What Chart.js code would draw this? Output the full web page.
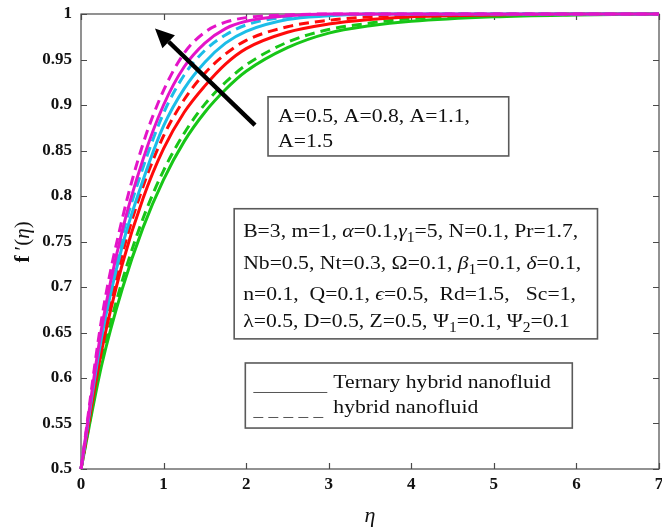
<!DOCTYPE html>
<html lang="en">
<head>
<meta charset="UTF-8">
<title>f'(eta) for different A</title>
<script src="https://cdn.jsdelivr.net/npm/chart.js"></script>
<style>
  html, body { margin: 0; padding: 0; background: #fff; }
  #wrap { width: 662px; height: 532px; }
</style>
</head>
<body>
<div id="wrap"><canvas id="velChart"></canvas></div>
<script>
// similarity variable and velocity profiles f'(eta)
const etaValues  = [0, 0.25, 0.5, 0.75, 1, 1.25, 1.5, 1.75, 2, 2.5, 3, 3.5, 4, 5, 6, 7];
const ternaryA05 = [0.5, 0.614, 0.698, 0.765, 0.818, 0.860, 0.892, 0.917, 0.937, 0.963, 0.979, 0.987, 0.992, 0.997, 0.999, 1.0];
const hybridA05  = [0.5, 0.620, 0.707, 0.775, 0.828, 0.869, 0.901, 0.925, 0.944, 0.969, 0.983, 0.990, 0.995, 0.998, 1.0, 1.0];
const ternaryA08 = [0.5, 0.630, 0.725, 0.797, 0.852, 0.892, 0.921, 0.945, 0.962, 0.980, 0.989, 0.994, 0.997, 0.999, 1.0, 1.0];
const hybridA08  = [0.5, 0.637, 0.736, 0.810, 0.866, 0.906, 0.935, 0.956, 0.971, 0.986, 0.993, 0.997, 0.999, 1.0, 1.0, 1.0];
const ternaryA11 = [0.5, 0.645, 0.745, 0.817, 0.877, 0.918, 0.947, 0.968, 0.981, 0.994, 0.998, 1.0, 1.0, 1.0, 1.0, 1.0];
const hybridA11  = [0.5, 0.652, 0.756, 0.831, 0.891, 0.933, 0.960, 0.977, 0.988, 0.997, 0.999, 1.0, 1.0, 1.0, 1.0, 1.0];
const ternaryA15 = [0.5, 0.655, 0.762, 0.840, 0.900, 0.942, 0.968, 0.984, 0.992, 0.998, 1.0, 1.0, 1.0, 1.0, 1.0, 1.0];
const hybridA15  = [0.5, 0.665, 0.775, 0.857, 0.916, 0.957, 0.980, 0.991, 0.996, 0.999, 1.0, 1.0, 1.0, 1.0, 1.0, 1.0];

const etaTicks = [0, 1, 2, 3, 4, 5, 6, 7];
const fTicks = [0.5, 0.55, 0.6, 0.65, 0.7, 0.75, 0.8, 0.85, 0.9, 0.95, 1];

// text of the annotation boxes: [text, style] with style i = italic, s = subscript
const aLabelLines = [
  [['A=0.5, A=0.8, A=1.1,']],
  [['A=1.5']]
];
const paramLines = [
  [['B=3, m=1, '], ['α', 'i'], ['=0.1,'], ['γ', 'i'], ['1', 's'], ['=5, N=0.1, Pr=1.7,']],
  [['Nb=0.5, Nt=0.3, Ω=0.1, '], ['β', 'i'], ['1', 's'], ['=0.1, '], ['δ', 'i'], ['=0.1,']],
  [['n=0.1,  Q=0.1, '], ['ϵ', 'i'], ['=0.5,  Rd=1.5,   Sc=1,']],
  [['λ=0.5, D=0.5, Z=0.5, Ψ'], ['1', 's'], ['=0.1, Ψ'], ['2', 's'], ['=0.1']]
];
const legendNames = ['Ternary hybrid nanofluid', 'hybrid nanofluid'];

const GREEN = '#17c617', RED = '#ff0a0a', CYAN = '#1cbde8', MAGENTA = '#e414c8';
const SERIF = '"Liberation Serif", "Times New Roman", serif';

function pts(ys) {
  return etaValues.map((x, i) => ({ x: x, y: ys[i] }));
}
function curve(ys, color, dashed) {
  return {
    data: pts(ys),
    borderColor: color,
    borderWidth: 3,
    borderDash: dashed ? [10, 6] : [],
    pointRadius: 0,
    fill: false,
    cubicInterpolationMode: 'monotone',
    clip: false
  };
}

// first dataset ends up on top
const datasets = [
  curve(hybridA15, MAGENTA, true), curve(ternaryA15, MAGENTA, false),
  curve(hybridA11, CYAN, true),    curve(ternaryA11, CYAN, false),
  curve(hybridA08, RED, true),     curve(ternaryA08, RED, false),
  curve(hybridA05, GREEN, true),   curve(ternaryA05, GREEN, false)
];

const SX = 1.14; // text in the boxes is a little wider than normal

function drawRich(ctx, segs, x, y, size) {
  ctx.save();
  ctx.translate(x, y);
  ctx.scale(SX, 1);
  ctx.fillStyle = '#111';
  ctx.textBaseline = 'alphabetic';
  ctx.textAlign = 'left';
  let cx = 0;
  segs.forEach(s => {
    const st = s[1] || '';
    const sz = st === 's' ? size * 0.72 : size;
    ctx.font = (st === 'i' ? 'italic ' : '') + sz + 'px ' + SERIF;
    ctx.fillText(s[0], cx, st === 's' ? size * 0.3 : 0);
    cx += ctx.measureText(s[0]).width;
  });
  ctx.restore();
}

function boxRect(chart, x0, y0, x1, y1) {
  const xs = chart.scales.x, ys = chart.scales.y;
  const l = xs.getPixelForValue(x0), r = xs.getPixelForValue(x1);
  const t = ys.getPixelForValue(y0), b = ys.getPixelForValue(y1);
  const ctx = chart.ctx;
  ctx.save();
  ctx.fillStyle = '#fff';
  ctx.fillRect(l, t, r - l, b - t);
  ctx.strokeStyle = '#5a5a5a';
  ctx.lineWidth = 1.6;
  ctx.strokeRect(l, t, r - l, b - t);
  ctx.restore();
  return { l: l, t: t, r: r, b: b };
}

const figureExtras = {
  id: 'figureExtras',
  beforeDatasetsDraw(chart) {
    const { ctx, chartArea: a } = chart;
    const xs = chart.scales.x, ys = chart.scales.y;
    ctx.save();
    ctx.strokeStyle = '#4a4a4a';
    ctx.lineWidth = 1.2;
    ctx.strokeRect(a.left, a.top, a.right - a.left, a.bottom - a.top);
    // inward ticks on all four sides
    ctx.beginPath();
    etaTicks.forEach(v => {
      const px = Math.round(xs.getPixelForValue(v)) + 0.5;
      ctx.moveTo(px, a.bottom); ctx.lineTo(px, a.bottom - 6);
      ctx.moveTo(px, a.top); ctx.lineTo(px, a.top + 6);
    });
    fTicks.forEach(v => {
      const py = Math.round(ys.getPixelForValue(v)) + 0.5;
      ctx.moveTo(a.left, py); ctx.lineTo(a.left + 6, py);
      ctx.moveTo(a.right, py); ctx.lineTo(a.right - 6, py);
    });
    ctx.stroke();
    ctx.restore();
  },
  afterDatasetsDraw(chart) {
    const ctx = chart.ctx;
    const xs = chart.scales.x, ys = chart.scales.y;

    // arrow showing increasing A
    const tx = xs.getPixelForValue(0.896), ty = ys.getPixelForValue(0.984);
    const sx = xs.getPixelForValue(2.107), sy = ys.getPixelForValue(0.878);
    const ang = Math.atan2(ty - sy, tx - sx);
    const headLen = 19, headW = 9;
    const bx = tx - headLen * Math.cos(ang), by = ty - headLen * Math.sin(ang);
    ctx.save();
    ctx.strokeStyle = '#000';
    ctx.fillStyle = '#000';
    ctx.lineWidth = 4.5;
    ctx.beginPath();
    ctx.moveTo(sx, sy);
    ctx.lineTo(bx, by);
    ctx.stroke();
    ctx.beginPath();
    ctx.moveTo(tx, ty);
    ctx.lineTo(bx + headW * Math.sin(ang), by - headW * Math.cos(ang));
    ctx.lineTo(bx - headW * Math.sin(ang), by + headW * Math.cos(ang));
    ctx.closePath();
    ctx.fill();
    ctx.restore();

    // A values box
    const b1 = boxRect(chart, 2.265, 0.909, 5.18, 0.844);
    aLabelLines.forEach((ln, i) => drawRich(ctx, ln, b1.l + 10, b1.t + 25 + i * 25, 19));

    // parameter box
    const b2 = boxRect(chart, 1.855, 0.786, 6.255, 0.643);
    const base2 = [28, 60, 91, 118];
    paramLines.forEach((ln, i) => drawRich(ctx, ln, b2.l + 9, b2.t + base2[i], 19));

    // line style key
    const b3 = boxRect(chart, 1.99, 0.6165, 5.95, 0.545);
    ctx.save();
    ctx.strokeStyle = '#555';
    ctx.lineWidth = 1;
    ctx.beginPath();
    ctx.moveTo(b3.l + 8, b3.t + 29.5); ctx.lineTo(b3.l + 82, b3.t + 29.5);
    ctx.stroke();
    ctx.setLineDash([10, 5]);
    ctx.beginPath();
    ctx.moveTo(b3.l + 8, b3.t + 54.5); ctx.lineTo(b3.l + 82, b3.t + 54.5);
    ctx.stroke();
    ctx.restore();
    legendNames.forEach((t, i) => drawRich(ctx, [[t]], b3.l + 88, b3.t + 25 + i * 25, 19));
  },
  afterDraw(chart) {
    // y axis title f'(eta)
    const ctx = chart.ctx;
    ctx.save();
    ctx.translate(29, 242);
    ctx.rotate(-Math.PI / 2);
    ctx.fillStyle = '#111';
    ctx.textBaseline = 'alphabetic';
    const parts = [
      ['bold 21px ' + SERIF, 'f '],
      ['21px ' + SERIF, '′('],
      ['italic 21px ' + SERIF, 'η'],
      ['21px ' + SERIF, ')']
    ];
    let w = 0;
    parts.forEach(p => { ctx.font = p[0]; w += ctx.measureText(p[1]).width; });
    let cx = -w / 2;
    parts.forEach(p => { ctx.font = p[0]; ctx.fillText(p[1], cx, 0); cx += ctx.measureText(p[1]).width; });
    ctx.restore();
  }
};

new Chart(document.getElementById('velChart'), {
  type: 'line',
  data: { datasets: datasets },
  options: {
    responsive: true,
    maintainAspectRatio: false,
    animation: false,
    events: [],
    layout: { padding: { top: 14, right: 3, left: 0, bottom: 0 } },
    plugins: { legend: { display: false }, tooltip: { enabled: false } },
    scales: {
      x: {
        type: 'linear',
        min: 0, max: 7,
        afterBuildTicks: s => { s.ticks = etaTicks.map(v => ({ value: v })); },
        afterFit: s => { s.height = 63; s.paddingLeft = 0; s.paddingRight = 0; },
        grid: { display: false, drawTicks: false },
        border: { display: false },
        ticks: {
          color: '#111', padding: 5,
          font: { family: SERIF, size: 17, weight: 'bold' },
          callback: v => String(v)
        },
        title: {
          display: true, text: 'η', color: '#111',
          font: { family: SERIF, size: 22, style: 'italic' },
          padding: { top: 0, bottom: 3 }
        }
      },
      y: {
        type: 'linear',
        min: 0.5, max: 1,
        afterBuildTicks: s => { s.ticks = fTicks.map(v => ({ value: v })); },
        afterFit: s => { s.width = 81; s.paddingTop = 0; s.paddingBottom = 0; },
        grid: { display: false, drawTicks: false },
        border: { display: false },
        ticks: {
          color: '#111', padding: 9,
          font: { family: SERIF, size: 17, weight: 'bold' },
          callback: v => String(Number(v.toFixed(2)))
        }
      }
    }
  },
  plugins: [figureExtras]
});
</script>
</body>
</html>
